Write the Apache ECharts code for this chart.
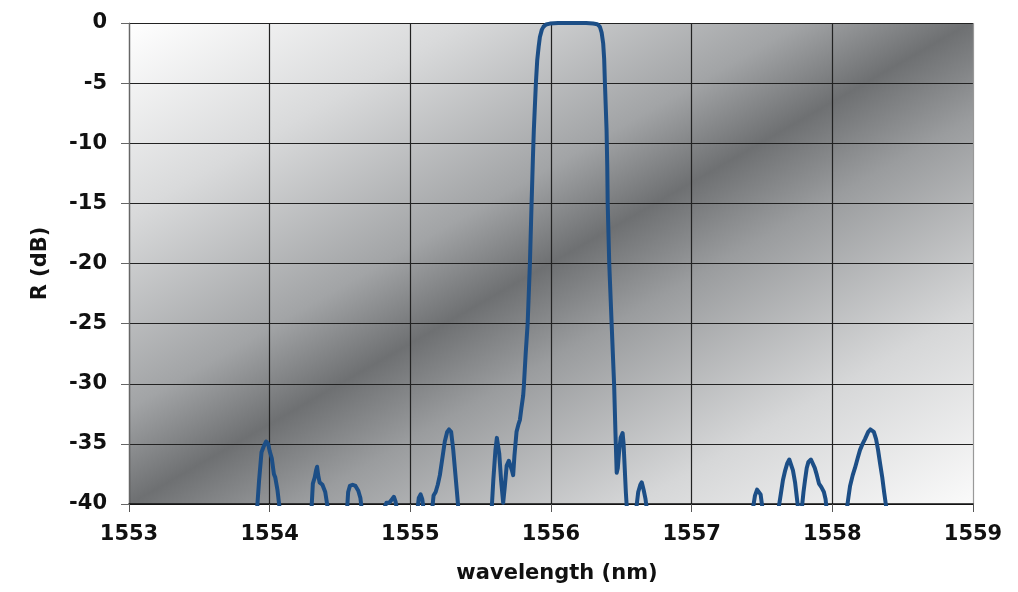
<!DOCTYPE html>
<html>
<head>
<meta charset="utf-8">
<script src="https://cdn.jsdelivr.net/npm/echarts@6/dist/echarts.min.js"></script>
<style>
html,body{margin:0;padding:0;background:#fff;}
#chart{width:1018px;height:592px;}
</style>
</head>
<body>
<div id="chart"></div>
<script>
// Wavelength (nm) and reflection (dB)
const wavelength = [
  1553.850,
  1553.910,1553.925,1553.942,1553.958,1553.975,1553.989,1554.000,1554.015,1554.030,1554.040,1554.055,1554.072,
  1554.297,1554.307,1554.320,1554.330,1554.337,1554.345,1554.355,1554.375,1554.395,1554.415,
  1554.550,1554.558,1554.570,1554.590,1554.610,1554.630,1554.645,1554.655,
  1554.810,1554.830,1554.850,1554.870,1554.883,1554.895,1554.905,
  1555.050,1555.060,1555.073,1555.085,1555.095,
  1555.155,1555.165,1555.180,1555.195,1555.210,1555.225,1555.245,1555.262,1555.275,1555.290,1555.305,1555.320,1555.335,1555.342,
  1555.578,1555.590,1555.605,1555.615,1555.622,1555.632,1555.645,1555.660,1555.672,1555.685,1555.700,1555.712,1555.722,1555.731,1555.740,1555.755,1555.768,1555.779,1555.790,1555.802,1555.807,
  1555.820,1555.834,1555.850,1555.862,1555.872,1555.878,1555.893,1555.902,1555.912,1555.921,1555.935,1555.947,1555.965,1555.992,
  1556.050,1556.100,1556.150,1556.200,1556.250,1556.300,1556.329,1556.348,1556.360,1556.371,1556.378,1556.383,1556.395,1556.400,1556.403,1556.414,1556.431,1556.449,
  1556.458,1556.467,1556.475,1556.483,1556.495,1556.509,1556.516,1556.524,1556.532,1556.540,
  1556.605,1556.620,1556.635,1556.645,1556.660,1556.672,1556.682,
  1557.434,1557.450,1557.465,1557.474,1557.490,1557.505,
  1557.616,1557.632,1557.649,1557.665,1557.680,1557.694,1557.704,1557.720,1557.735,1557.748,1557.758,
  1557.782,1557.795,1557.806,1557.818,1557.830,1557.848,1557.861,1557.875,1557.890,1557.905,1557.922,1557.940,1557.952,1557.960,
  1558.102,1558.115,1558.126,1558.145,1558.161,1558.180,1558.197,1558.215,1558.232,1558.255,1558.270,1558.282,1558.295,1558.311,1558.325,1558.339,1558.355,1558.368,1558.380,1558.387,
  1558.500,1559.000
];
const reflection = [
  -45,
  -40.5,-38,-35.7,-35.2,-34.8,-35.0,-35.6,-36.2,-37.5,-37.8,-38.8,-40.5,
  -40.5,-38.3,-37.8,-37.2,-36.9,-37.6,-38.2,-38.4,-39.0,-40.5,
  -40.5,-39,-38.5,-38.4,-38.5,-38.9,-39.5,-40.5,
  -40.5,-39.9,-39.9,-39.6,-39.4,-39.8,-40.5,
  -40.5,-39.5,-39.2,-39.6,-40.5,
  -40.5,-39.3,-39.0,-38.4,-37.6,-36.4,-34.8,-34.0,-33.8,-34.0,-35.5,-37.5,-39.5,-40.5,
  -40.5,-38,-35.5,-34.5,-34.5,-35.8,-38,-39.9,-38.5,-36.8,-36.4,-36.5,-37.2,-37.6,-36,-34.0,-33.4,-33.0,-32.0,-31.0,-30.2,
  -27.5,-25.0,-20.0,-15.0,-11.0,-8.9,-4.9,-3.1,-2.0,-1.16,-0.55,-0.3,-0.12,-0.05,
  0,0,0,0,0,-0.05,-0.1,-0.33,-0.8,-1.7,-3.0,-4.9,-8.9,-12,-15,-20,-25,-30.2,
  -34,-37.4,-37.0,-35.8,-34.5,-34.1,-35,-37,-39,-40.5,
  -40.5,-39,-38.4,-38.2,-38.9,-39.6,-40.5,
  -40.5,-39.3,-38.8,-38.7,-39.2,-40.5,
  -40.5,-39.3,-38.0,-37.2,-36.6,-36.3,-36.4,-37.2,-38.2,-39.5,-40.5,
  -40.5,-39,-38.0,-37.0,-36.5,-36.3,-36.4,-37.0,-37.6,-38.3,-38.6,-39.0,-39.6,-40.5,
  -40.5,-39.4,-38.5,-37.6,-37.0,-36.2,-35.5,-35.0,-34.6,-34.0,-33.8,-33.7,-34.0,-34.6,-35.5,-36.6,-37.8,-39.0,-40.0,-40.5,
  -45,-45
];
const xTicks = { min: 1553, max: 1559, step: 1 };
const yTicks = { min: -40, max: 0, step: 5 };
const xTitle = 'wavelength (nm)';
const yTitle = 'R (dB)';

const points = wavelength.map((w, i) => [w, reflection[i]]);

const font = 'DejaVu Sans, Verdana, sans-serif';
const chart = echarts.init(document.getElementById('chart'), null, { renderer: 'canvas' });
chart.setOption({
  animation: false,
  backgroundColor: '#ffffff',
  grid: {
    left: 129, right: 45, top: 23, bottom: 88,
    show: true,
    borderWidth: 0,
    backgroundColor: {
      type: 'linear', x: 0, y: 0, x2: 0.492, y2: 1.508,
      colorStops: [
        { offset: 0, color: '#ffffff' },
        { offset: 0.2, color: '#d9dadb' },
        { offset: 0.4, color: '#a2a4a6' },
        { offset: 0.5, color: '#6e7072' },
        { offset: 0.6, color: '#9a9c9e' },
        { offset: 0.8, color: '#d6d7d8' },
        { offset: 1, color: '#fafafa' }
      ]
    }
  },
  xAxis: {
    type: 'value',
    min: xTicks.min, max: xTicks.max, interval: xTicks.step,
    name: xTitle, nameLocation: 'middle', nameGap: 59,
    nameTextStyle: { fontFamily: font, fontWeight: 'bold', fontSize: 21, color: '#111', padding: [0, 0, 0, 12] },
    axisLine: { show: true, onZero: false, lineStyle: { color: '#111', width: 1.5 } },
    axisTick: { show: true, length: 8, lineStyle: { color: '#555' } },
    axisLabel: { margin: 20, fontFamily: font, fontWeight: 'bold', fontSize: 21, color: '#111',
      formatter: function (v) { return String(v); } },
    splitLine: { show: true, lineStyle: { color: ['#222', '#222', '#222', '#222', '#222', '#222', '#999'], width: 1.2 } }
  },
  yAxis: {
    type: 'value',
    min: yTicks.min, max: yTicks.max, interval: yTicks.step,
    name: yTitle, nameLocation: 'middle', nameGap: 78,
    nameTextStyle: { fontFamily: font, fontWeight: 'bold', fontSize: 21, color: '#111' },
    axisLine: { show: true, onZero: false, lineStyle: { color: '#666', width: 1.2 } },
    axisTick: { show: true, length: 8, lineStyle: { color: '#666' } },
    axisLabel: { margin: 22, fontFamily: font, fontWeight: 'bold', fontSize: 21, color: '#111',
      formatter: function (v) { return String(v); } },
    splitLine: { show: true, lineStyle: { color: '#222', width: 1.2 } }
  },
  series: [{
    type: 'line',
    data: points,
    showSymbol: false,
    symbol: 'none',
    clip: true,
    lineStyle: { color: '#1c4e86', width: 4, join: 'round', cap: 'round' }
  }]
});
</script>
</body>
</html>
